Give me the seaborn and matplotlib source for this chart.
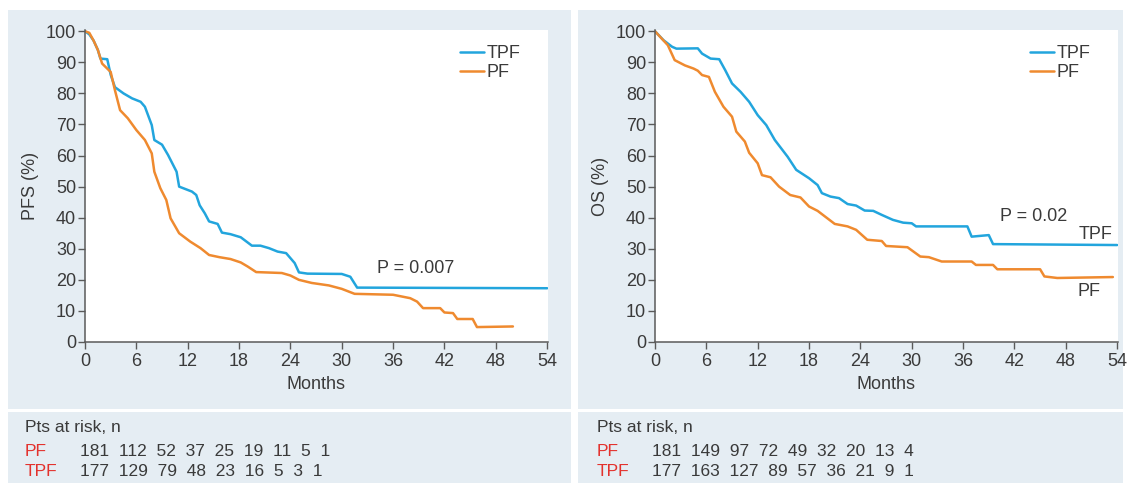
import numpy as np
import pandas as pd
import matplotlib
matplotlib.use("Agg")
import matplotlib.pyplot as plt
import seaborn as sns
from matplotlib.patches import Rectangle

# ---------------- data ----------------
pfs_tpf_t = [0, 0.5, 1, 1.5, 1.8, 2.6, 3.0, 3.5, 4.5, 5.5, 6.5, 7.0, 7.8, 8.1, 9.0, 9.7, 10.7, 11.0,
             12.5, 13.0, 13.4, 14.0, 14.5, 15.5, 16.0, 17.0, 18.2, 19.5, 20.5, 21.5, 22.5, 23.5, 24.5,
             25.0, 26.0, 30.0, 31.0, 31.8, 54]
pfs_tpf_v = [100, 99, 97, 94, 91.2, 91, 86, 82, 80, 78.4, 77.3, 75.7, 69.8, 65, 63.5, 60.2, 54.8, 50,
             48.4, 47.3, 44, 41.4, 38.8, 38, 35.2, 34.7, 33.7, 31, 31, 30.2, 29.1, 28.6, 25.4,
             22.4, 22, 21.9, 21, 17.5, 17.3]
pfs_pf_t = [0, 0.5, 1, 1.5, 2, 3, 3.5, 4.1, 5, 6, 7, 7.8, 8.1, 8.8, 9.5, 10, 11, 12.3, 13.5, 14.5,
            15.7, 17, 18.2, 19, 20, 23, 24, 25, 26.5, 28.5, 30, 31.5, 36, 38, 38.8, 39.5, 41.5, 42,
            43, 43.5, 45.3, 45.8, 50]
pfs_pf_v = [100, 99.5, 97, 94, 89.6, 86.9, 81, 74.6, 72, 68.2, 65, 60.7, 54.8, 49.5, 45.7, 39.8, 35,
            32.3, 30.2, 28, 27.3, 26.7, 25.6, 24.3, 22.5, 22.2, 21.4, 20, 19, 18.2, 17.1, 15.5, 15.2,
            14.1, 13, 10.9, 10.9, 9.5, 9.3, 7.4, 7.4, 4.8, 5]

os_tpf_t = [0, 1, 2, 2.5, 5, 5.5, 6.5, 7.5, 8.2, 9, 10, 11, 12, 13, 14, 15.5, 16.5, 18, 19, 19.5,
            20.5, 21.5, 22.5, 23.5, 24.5, 25.5, 26.5, 27.8, 29, 30, 30.5, 36.5, 37, 39, 39.5, 54]
os_tpf_v = [100, 97.1, 95, 94.4, 94.5, 92.8, 91.2, 91, 87.5, 83.2, 80.5, 77.3, 73, 69.8, 65, 59.6,
            55.4, 52.7, 50.5, 47.9, 46.8, 46.3, 44.4, 43.9, 42.3, 42.2, 40.9, 39.3, 38.4, 38.2, 37.2,
            37.2, 33.9, 34.4, 31.5, 31.2]
os_pf_t = [0, 1.5, 2.3, 3.5, 4.5, 5, 5.5, 6.3, 7, 8, 9, 9.5, 10.5, 11, 12, 12.5, 13.5, 14.5, 15.8,
           17, 18, 19, 20, 21, 22.5, 23.5, 24.8, 26.5, 27, 29.5, 31, 32, 33.5, 37, 37.5, 39.5, 40,
           45, 45.5, 47, 53.5]
os_pf_v = [100, 95.5, 90.7, 89, 88, 87.3, 85.9, 85.3, 80.5, 75.7, 72.5, 67.7, 64.5, 60.9, 57.5,
           53.7, 53, 50, 47.3, 46.5, 43.6, 42.2, 40.1, 38, 37.2, 36.1, 32.9, 32.5, 30.9, 30.5, 27.5,
           27.3, 25.9, 25.9, 24.8, 24.8, 23.4, 23.4, 21.1, 20.6, 20.9]

arms = ["TPF", "PF"]
x_ticks = list(range(0, 55, 6))
y_ticks = list(range(0, 101, 10))

pfs_risk_pf = [181, 112, 52, 37, 25, 19, 11, 5, 1]
pfs_risk_tpf = [177, 129, 79, 48, 23, 16, 5, 3, 1]
os_risk_pf = [181, 149, 97, 72, 49, 32, 20, 13, 4]
os_risk_tpf = [177, 163, 127, 89, 57, 36, 21, 9, 1]

pfs_p = "P = 0.007"
os_p = "P = 0.02"

# ---------------- style ----------------
sns.set_theme(style="ticks")
plt.rcParams["font.family"] = ["Liberation Sans", "DejaVu Sans"]
TXT = "#3a3a3a"
AX = "#5a5a5a"
BLUE = "#22a5dd"
ORANGE = "#ef8a2f"
RED = "#e3322d"
PANEL = "#e5edf3"
palette = {"TPF": BLUE, "PF": ORANGE}
FS = 13
TFS = 12.5

W, H = 1130, 483
fig = plt.figure(figsize=(W / 100, H / 100), dpi=100)
fig.patch.set_facecolor("white")

def px_rect(x0, y0, x1, y1):
    fig.patches.append(Rectangle((x0 / W, 1 - y1 / H), (x1 - x0) / W, (y1 - y0) / H,
                                 transform=fig.transFigure, facecolor=PANEL,
                                 edgecolor="none", zorder=-10))

px_rect(8, 10, 571, 409)
px_rect(578, 10, 1123, 409)
px_rect(8, 412, 571, 483)
px_rect(578, 412, 1123, 483)

def make_df(t1, v1, t2, v2):
    return pd.concat([
        pd.DataFrame({"Months": t1, "Pct": v1, "arm": "TPF"}),
        pd.DataFrame({"Months": t2, "Pct": v2, "arm": "PF"}),
    ], ignore_index=True)

def panel(left_px, df, ylabel):
    ax = fig.add_axes([left_px / W, (H - 342) / H, 463 / W, 312 / H])
    ax.set_facecolor("white")
    sns.lineplot(data=df, x="Months", y="Pct", hue="arm", hue_order=arms, palette=palette,
                 sort=False, estimator=None, units="arm", lw=1.8, ax=ax)
    ax.set_xlim(0, 54.1)
    ax.set_ylim(0, 100.4)
    ax.set_xticks(x_ticks)
    ax.set_yticks(y_ticks)
    ax.tick_params(axis="both", colors=AX, labelcolor=TXT, labelsize=FS, length=5, width=1)
    ax.tick_params(axis="x", pad=3)
    ax.tick_params(axis="y", pad=1.5)
    for s in ["top", "right"]:
        ax.spines[s].set_visible(False)
    for s in ["left", "bottom"]:
        ax.spines[s].set_color(AX)
        ax.spines[s].set_linewidth(1.1)
    ax.set_xlabel("Months", fontsize=FS, color=TXT)
    ax.set_ylabel(ylabel, fontsize=FS, color=TXT)
    ax.xaxis.set_label_coords(0.5, -0.11)
    ax.yaxis.set_label_coords(-0.10, 0.5)
    leg = ax.legend(loc="upper left", bbox_to_anchor=(0.795, 0.975), frameon=False,
                    handlelength=1.3, handletextpad=0.15, labelspacing=0.12,
                    fontsize=FS, borderaxespad=0)
    for t in leg.get_texts():
        t.set_color(TXT)
    return ax

ax1 = panel(85, make_df(pfs_tpf_t, pfs_tpf_v, pfs_pf_t, pfs_pf_v), "PFS (%)")
ax1.text(34.1, 23.8, pfs_p, fontsize=FS, color=TXT, va="center", ha="left")

ax2 = panel(655, make_df(os_tpf_t, os_tpf_v, os_pf_t, os_pf_v), "OS (%)")
ax2.text(40.3, 40.4, os_p, fontsize=FS, color=TXT, va="center", ha="left")
ax2.text(53.4, 34.5, "TPF", fontsize=FS, color=TXT, va="center", ha="right")
ax2.text(52.1, 16.3, "PF", fontsize=FS, color=TXT, va="center", ha="right")

def table(x0_px, pf_vals, tpf_vals):
    fx = x0_px / W
    fig.text(fx, 1 - 428 / H, "Pts at risk, n", fontsize=TFS, color=TXT, va="center")
    fig.text(fx, 1 - 452 / H, "PF", fontsize=TFS, color=RED, va="center")
    fig.text(fx, 1 - 471 / H, "TPF", fontsize=TFS, color=RED, va="center")
    nx = (x0_px + 55) / W
    fig.text(nx, 1 - 452 / H, "  ".join(str(v) for v in pf_vals), fontsize=TFS, color=TXT,
             va="center")
    fig.text(nx, 1 - 471 / H, "  ".join(str(v) for v in tpf_vals), fontsize=TFS, color=TXT,
             va="center")

table(25, pfs_risk_pf, pfs_risk_tpf)
table(597, os_risk_pf, os_risk_tpf)

fig.savefig("out.png", dpi=100, facecolor="white")
